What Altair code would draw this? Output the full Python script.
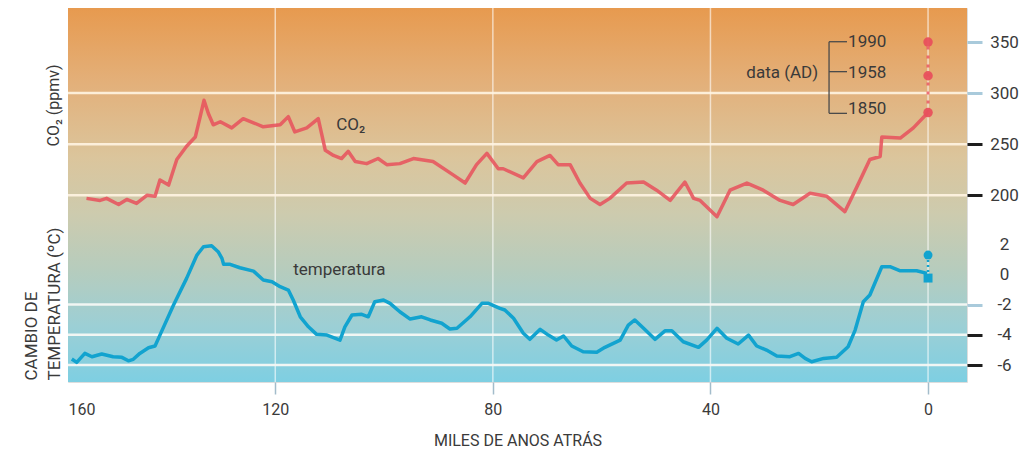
import altair as alt
import pandas as pd

# ---------------- data ----------------
co2_kyr = [154.7, 152.2, 151.0, 148.8, 147.3, 145.5, 143.6, 142.1, 141.2, 139.6,
           138.1, 136.3, 134.7, 133.8, 133.1, 132.3, 131.4, 130.1, 128.0, 125.9,
           124.0, 122.2, 119.1, 117.6, 116.4, 114.2, 112.1, 110.8, 109.3, 107.8,
           106.6, 105.3, 103.2, 101.1, 99.5, 97.1, 94.6, 91.0, 87.3, 85.1,
           83.0, 81.1, 79.0, 78.1, 74.4, 71.9, 69.5, 68.0, 65.8, 64.0,
           62.1, 60.3, 58.5, 55.4, 52.3, 49.9, 47.4, 44.7, 43.1, 41.9,
           38.8, 36.4, 33.3, 30.3, 27.2, 24.8, 21.7, 18.6, 15.3, 13.1,
           10.7, 8.8, 8.5, 5.1, 2.7, 0.0]
co2_ppm = [197, 195, 197, 191, 196, 192, 200, 199, 215, 210,
           235, 248, 257, 277, 293, 280, 269, 272, 266, 275,
           271, 267, 269, 277, 262, 266, 275, 244, 239, 236,
           243, 233, 231, 236, 230, 231, 236, 233, 220, 212,
           230, 241, 226, 226, 217, 233, 239, 230, 230, 212,
           197, 191, 197, 212, 213, 205, 195, 213, 197, 195,
           179, 205, 212, 205, 195, 191, 202, 199, 184, 208,
           235, 238, 257, 256, 266, 281]

temp_kyr = [157.4, 156.5, 155.0, 153.7, 151.9, 149.8, 148.2, 147.0, 146.1, 144.9,
            143.3, 142.1, 141.2, 138.7, 136.3, 134.4, 133.2, 131.7, 130.5, 129.8,
            129.5, 128.3, 126.5, 124.0, 122.2, 120.6, 119.1, 117.6, 116.7, 115.4,
            113.9, 112.4, 110.5, 108.1, 107.2, 105.9, 104.1, 102.9, 101.7, 100.1,
            98.9, 97.1, 95.2, 93.1, 91.5, 89.4, 87.9, 86.6, 84.2, 82.0,
            80.8, 78.7, 77.8, 76.2, 74.4, 73.2, 71.3, 69.8, 68.3, 67.0,
            65.5, 63.4, 60.9, 59.4, 56.6, 55.1, 53.9, 52.3, 50.2, 48.3,
            47.1, 45.0, 42.2, 40.7, 38.8, 37.0, 34.9, 33.0, 31.5, 29.7,
            27.8, 25.4, 23.8, 22.6, 21.4, 19.2, 16.8, 14.7, 13.4, 11.9,
            10.7, 8.5, 7.0, 5.1, 2.1, 0.2]
temp_c = [-5.60, -5.82, -5.23, -5.45, -5.27, -5.45, -5.49, -5.72, -5.62, -5.23,
          -4.86, -4.74, -4.02, -2.03, -0.27, 1.27, 1.82, 1.89, 1.49, 1.05,
          0.66, 0.66, 0.43, 0.21, -0.38, -0.49, -0.82, -1.04, -1.70, -2.81,
          -3.47, -3.97, -4.02, -4.35, -3.47, -2.69, -2.65, -2.81, -1.81, -1.70,
          -1.92, -2.48, -2.96, -2.81, -3.02, -3.24, -3.62, -3.57, -2.81, -1.92,
          -1.92, -2.25, -2.36, -2.91, -3.90, -4.30, -3.64, -4.02, -4.35, -4.08,
          -4.74, -5.12, -5.16, -4.83, -4.35, -3.36, -3.02, -3.57, -4.30, -3.73,
          -3.73, -4.46, -4.83, -4.35, -3.57, -4.23, -4.61, -4.02, -4.74, -5.01,
          -5.40, -5.45, -5.23, -5.56, -5.78, -5.56, -5.49, -4.79, -3.69, -1.81,
          -1.37, 0.50, 0.50, 0.23, 0.23, 0.06]

# modern CO2 measurements (AD years) plotted at 0 kyr
modern_years = ["1850", "1958", "1990"]
modern_co2 = [281, 317, 350]
modern_year_label_ppm = [284, 320, 350.3]
modern_stub_ppm = [280.2, 321, 350.3]
# modern temperature markers at 0 kyr
modern_temp = [1.27, -0.25]
modern_temp_shape = ["circle", "square"]

# axes / grids
x_ticks = [158.1, 120, 80, 40, 0]
x_grid = [120, 80, 40, 0]
co2_ticks = [200, 250, 300, 350]
co2_grid = [200, 250, 300]
temp_ticks = [-6, -4, -2, 0, 2]
temp_grid = [-6, -4, -2]

X_DOMAIN = [158.1, -7.16]
CO2_DOMAIN = [17.3, 383.3]
TEMP_DOMAIN = [-7.12, 17.60]

FONT = "Roboto"
TXT = "#3a3a3a"
RED = "#e8505c"
BLUE = "#12a3cf"

xs = alt.Scale(domain=X_DOMAIN, nice=False, zero=False)
cs = alt.Scale(domain=CO2_DOMAIN, nice=False, zero=False)
ts = alt.Scale(domain=TEMP_DOMAIN, nice=False, zero=False)

x_axis = alt.Axis(
    values=x_ticks, grid=False, domain=False,
    labelExpr="datum.value > 150 ? '160' : '' + datum.value",
    tickSize=12, tickWidth=1.5,
    tickColor={"condition": {"test": "datum.value > 150", "value": "transparent"}, "value": "#a3bccb"},
    labelFont=FONT, labelFontSize=16, labelColor=TXT, labelPadding=7,
    title="MILES DE ANOS ATRÁS", titleFont=FONT, titleFontSize=16,
    titleFontWeight="normal", titleColor=TXT, titlePadding=15,
)

co2_axis = alt.Axis(
    orient="right", values=co2_ticks, grid=False, domain=False,
    tickSize=15, tickWidth=3,
    tickColor={"condition": {"test": "datum.value >= 300", "value": "#a9cadb"}, "value": "#1e1e1e"},
    labelExpr="'' + datum.value",
    labelAlign="center", labelBaseline="middle", labelPadding=22,
    labelFont=FONT, labelFontSize=17, labelColor=TXT,
    title="CO₂ (ppmv)", titleAngle=270, titleX=-909, titleY=97,
    titleAlign="center", titleBaseline="alphabetic",
    titleFont=FONT, titleFontSize=16, titleFontWeight="normal", titleColor=TXT,
)

temp_axis = alt.Axis(
    orient="right", values=temp_ticks, grid=False, domain=False,
    tickSize=15, tickWidth=3,
    tickColor={"condition": [
        {"test": "datum.value >= 0", "value": "transparent"},
        {"test": "datum.value == -2", "value": "#a9cadb"}], "value": "#1e1e1e"},
    labelExpr="'' + datum.value",
    labelAlign="center", labelBaseline="middle", labelPadding=22,
    labelFont=FONT, labelFontSize=17, labelColor=TXT,
    title=["CAMBIO DE", "TEMPERATURA (ºC)"], titleAngle=270,
    titleX=-931, titleY=372, titleAlign="left", titleBaseline="alphabetic",
    titleLineHeight=23,
    titleFont=FONT, titleFontSize=17, titleFontWeight="normal", titleColor=TXT,
)


def X(field):
    return alt.X(field, scale=xs, axis=x_axis)


def YC(field):
    return alt.Y(field, scale=cs, axis=co2_axis)


def YT(field):
    return alt.Y(field, scale=ts, axis=temp_axis)


# ---------------- tables ----------------
co2_df = pd.DataFrame({"kyr": co2_kyr, "ppm": co2_ppm})
temp_df = pd.DataFrame({"kyr": temp_kyr, "t": temp_c})
modern_df = pd.DataFrame({"kyr": [0, 0, 0], "ppm": modern_co2, "year": modern_years,
                          "lab": modern_year_label_ppm, "stub": modern_stub_ppm})
mt_df = pd.DataFrame({"kyr": [0, 0], "t": modern_temp, "shape": modern_temp_shape})
bg_df = pd.DataFrame({"kyr": [X_DOMAIN[0]], "x1": [X_DOMAIN[1]],
                      "ppm": [CO2_DOMAIN[0]], "y1": [CO2_DOMAIN[1]]})

gradient = {
    "gradient": "linear", "x1": 0, "x2": 0, "y1": 0, "y2": 1,
    "stops": [
        {"offset": 0.0, "color": "#e79a4f"},
        {"offset": 0.2, "color": "#e3b07a"},
        {"offset": 0.4, "color": "#dbc59c"},
        {"offset": 0.55, "color": "#cdcbae"},
        {"offset": 0.7, "color": "#b6ccbd"},
        {"offset": 0.85, "color": "#9ccfd5"},
        {"offset": 1.0, "color": "#7ecfe2"},
    ],
}

bg = alt.Chart(bg_df).mark_rect(fill=gradient).encode(
    x=X("kyr:Q"), x2="x1:Q", y=YC("ppm:Q"), y2="y1:Q",
)

vgrid = alt.Chart(pd.DataFrame({"kyr": x_grid})).mark_rule(
    color="#ffffff", opacity=0.6, strokeWidth=1.5
).encode(x=X("kyr:Q"))

cgrid = alt.Chart(pd.DataFrame({"ppm": co2_grid})).mark_rule(
    color="#fff4e2", opacity=0.9, strokeWidth=2.5
).encode(y=YC("ppm:Q"))

co2_line = alt.Chart(co2_df).mark_line(
    color=RED, strokeWidth=3.5, opacity=0.85, strokeJoin="round"
).encode(x=X("kyr:Q"), y=YC("ppm:Q"))

co2_dash = alt.Chart(modern_df).mark_line(
    color=RED, strokeWidth=3, opacity=0.8, strokeDash=[3, 6]
).encode(x=X("kyr:Q"), y=YC("ppm:Q"))

co2_pts = alt.Chart(modern_df).mark_point(
    filled=True, color=RED, size=90, opacity=0.95
).encode(x=X("kyr:Q"), y=YC("ppm:Q"))

co2_txt = alt.Chart(pd.DataFrame({"kyr": [108.8], "ppm": [268.8], "s": ["CO₂"]})).mark_text(
    align="left", baseline="middle", font=FONT, fontSize=17, color=TXT
).encode(x=X("kyr:Q"), y=YC("ppm:Q"), text="s:N")

year_txt = alt.Chart(modern_df.assign(kyr=14.7)).mark_text(
    align="left", baseline="middle", font=FONT, fontSize=17, color=TXT
).encode(x=X("kyr:Q"), y=YC("lab:Q"), text="year:N")

stubs = alt.Chart(modern_df.assign(kyr=18.2, xb=14.9)).mark_rule(
    color="#4a4a4a", strokeWidth=1.3
).encode(x=X("kyr:Q"), x2="xb:Q", y=YC("stub:Q"))

bracket = alt.Chart(pd.DataFrame({"kyr": [18.2], "ppm": [min(modern_stub_ppm)],
                                  "hi": [max(modern_stub_ppm)]})).mark_rule(
    color="#4a4a4a", strokeWidth=1.3
).encode(x=X("kyr:Q"), y=YC("ppm:Q"), y2="hi:Q")

data_txt = alt.Chart(pd.DataFrame({"kyr": [20.2], "ppm": [320], "s": ["data (AD)"]})).mark_text(
    align="right", baseline="middle", font=FONT, fontSize=17, color=TXT
).encode(x=X("kyr:Q"), y=YC("ppm:Q"), text="s:N")

co2_group = alt.layer(bg, vgrid, cgrid, co2_line, co2_dash, co2_pts, co2_txt,
                      stubs, bracket, year_txt, data_txt)

tgrid = alt.Chart(pd.DataFrame({"t": temp_grid})).mark_rule(
    color="#f6f8f4", opacity=0.95, strokeWidth=2.5
).encode(y=YT("t:Q"))

temp_line = alt.Chart(temp_df).mark_line(
    color=BLUE, strokeWidth=3.5, strokeJoin="round"
).encode(x=X("kyr:Q"), y=YT("t:Q"))

temp_dots = alt.Chart(mt_df).mark_line(
    color=BLUE, strokeWidth=2.5, strokeDash=[2, 3]
).encode(x=X("kyr:Q"), y=YT("t:Q"))

temp_pts = alt.Chart(mt_df).mark_point(
    filled=True, color=BLUE, size=80, opacity=1
).encode(x=X("kyr:Q"), y=YT("t:Q"), shape=alt.Shape("shape:N", scale=None))

temp_txt = alt.Chart(pd.DataFrame({"kyr": [116.7], "t": [0.28], "s": ["temperatura"]})).mark_text(
    align="left", baseline="middle", font=FONT, fontSize=17, color=TXT
).encode(x=X("kyr:Q"), y=YT("t:Q"), text="s:N")

temp_group = alt.layer(tgrid, temp_line, temp_dots, temp_pts, temp_txt)

chart = alt.layer(co2_group, temp_group).resolve_scale(y="independent").properties(
    width=899, height=374,
    autosize=alt.AutoSizeParams(type="none"),
    padding={"left": 60, "top": 0, "right": 56, "bottom": 66},
).configure_view(strokeWidth=0).configure(font=FONT)

chart.save("out.html", embed_options={"renderer": "svg", "actions": False})
